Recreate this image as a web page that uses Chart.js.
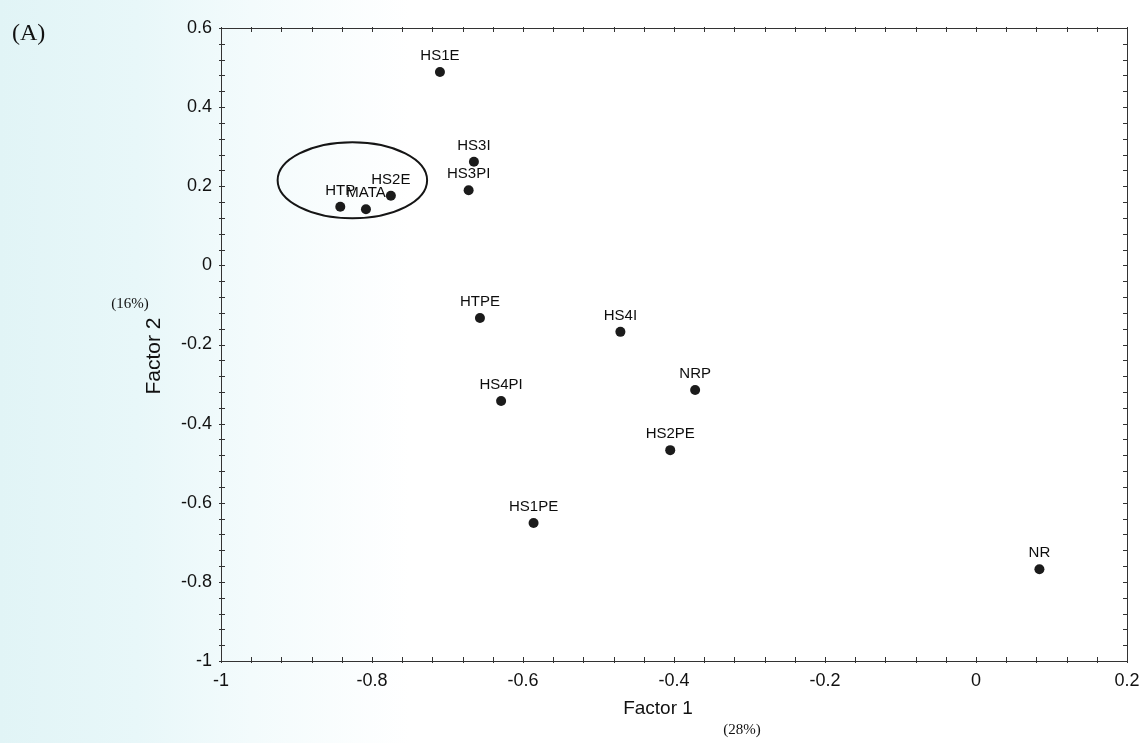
<!DOCTYPE html>
<html>
<head>
<meta charset="utf-8">
<script src="https://cdn.jsdelivr.net/npm/chart.js@4.4.0/dist/chart.umd.min.js"></script>
<style>
    html, body { margin: 0; padding: 0; }
    body {
        width: 1142px; height: 743px; overflow: hidden;
        background: linear-gradient(to right, #e1f4f6 0%, #e8f7f9 12%, #f3fbfc 22%, #ffffff 36%);
    }
</style>
</head>
<body>
<canvas id="factorChart" width="1142" height="743"></canvas>
<script>
// factor loadings
const pointNames = ['HS1E', 'HS3I', 'HS3PI', 'HS2E', 'HTP', 'MATA', 'HTPE', 'HS4I', 'NRP', 'HS4PI', 'HS2PE', 'HS1PE', 'NR'];
const factor1 = [-0.710, -0.665, -0.672, -0.775, -0.842, -0.808, -0.657, -0.471, -0.372, -0.629, -0.405, -0.586, 0.084];
const factor2 = [0.489, 0.262, 0.190, 0.176, 0.148, 0.142, -0.133, -0.168, -0.315, -0.343, -0.467, -0.651, -0.768];

// axis ranges and tick spacing
const xRange = [-1, 0.2];
const yRange = [-1, 0.6];
const majorStep = 0.2;
const minorStep = 0.04;

// the group circled in the figure (data units)
const groupCenter = [-0.826, 0.215];
const groupRadius = [0.099, 0.096];

const SANS = '"Liberation Sans", Arial, sans-serif';
const SERIF = '"Liberation Serif", "Times New Roman", serif';

function fmt(v) {
    return Number(v.toFixed(1)).toString();
}

// small inward ticks on all four sides of the box
const frameTicks = {
    id: 'frameTicks',
    afterDraw(chart) {
        const { ctx, chartArea: a, scales } = chart;
        ctx.save();
        ctx.strokeStyle = '#333';
        ctx.lineWidth = 1;
        ctx.strokeRect(a.left + 0.5, a.top + 0.5, a.right - a.left, a.bottom - a.top);
        ctx.beginPath();
        const nx = Math.round((xRange[1] - xRange[0]) / minorStep);
        for (let i = 0; i <= nx; i++) {
            const px = Math.round(scales.x.getPixelForValue(xRange[0] + i * minorStep)) + 0.5;
            ctx.moveTo(px, a.bottom + 2); ctx.lineTo(px, a.bottom - 4);
            ctx.moveTo(px, a.top - 1); ctx.lineTo(px, a.top + 4);
        }
        const ny = Math.round((yRange[1] - yRange[0]) / minorStep);
        for (let i = 0; i <= ny; i++) {
            const py = Math.round(scales.y.getPixelForValue(yRange[0] + i * minorStep)) + 0.5;
            ctx.moveTo(a.left - 2, py); ctx.lineTo(a.left + 4, py);
            ctx.moveTo(a.right + 1, py); ctx.lineTo(a.right - 4, py);
        }
        ctx.stroke();
        ctx.restore();
    }
};

// ellipse round the HTP / MATA / HS2E group
const groupEllipse = {
    id: 'groupEllipse',
    afterDatasetsDraw(chart) {
        const { ctx, scales } = chart;
        const cx = scales.x.getPixelForValue(groupCenter[0]);
        const cy = scales.y.getPixelForValue(groupCenter[1]);
        const rx = Math.abs(scales.x.getPixelForValue(groupCenter[0] + groupRadius[0]) - cx);
        const ry = Math.abs(scales.y.getPixelForValue(groupCenter[1] + groupRadius[1]) - cy);
        ctx.save();
        ctx.strokeStyle = '#151515';
        ctx.lineWidth = 2;
        ctx.beginPath();
        ctx.ellipse(cx, cy, rx, ry, 0, 0, Math.PI * 2);
        ctx.stroke();
        ctx.restore();
    }
};

// name above each point
const pointLabels = {
    id: 'pointLabels',
    afterDatasetsDraw(chart) {
        const { ctx } = chart;
        const meta = chart.getDatasetMeta(0);
        ctx.save();
        ctx.font = '15px ' + SANS;
        ctx.fillStyle = '#0d0d0d';
        ctx.textAlign = 'center';
        ctx.textBaseline = 'alphabetic';
        meta.data.forEach((pt, i) => {
            ctx.fillText(pointNames[i], pt.x, pt.y - 12);
        });
        ctx.restore();
    }
};

// axis titles, percentages and panel letter
const extraText = {
    id: 'extraText',
    afterDraw(chart) {
        const { ctx } = chart;
        ctx.save();
        ctx.fillStyle = '#111';
        ctx.textBaseline = 'middle';
        ctx.textAlign = 'left';
        ctx.font = '24px ' + SERIF;
        ctx.fillText('(A)', 12, 34);

        ctx.textAlign = 'center';
        ctx.font = '19px ' + SANS;
        ctx.fillText('Factor 1', 658, 709);
        ctx.font = '15px ' + SERIF;
        ctx.fillText('(28%)', 742, 730);
        ctx.fillText('(16%)', 130, 304);

        ctx.translate(154, 356);
        ctx.rotate(-Math.PI / 2);
        ctx.font = '21px ' + SANS;
        ctx.fillText('Factor 2', 0, 0);
        ctx.restore();
    }
};

const points = factor1.map((x, i) => ({ x: x, y: factor2[i] }));

new Chart(document.getElementById('factorChart').getContext('2d'), {
    type: 'scatter',
    data: {
        datasets: [{
            label: 'Samples',
            data: points,
            backgroundColor: '#1b1b1b',
            borderColor: '#1b1b1b',
            borderWidth: 0,
            pointRadius: 5
        }]
    },
    options: {
        responsive: false,
        animation: false,
        devicePixelRatio: 1,
        events: [],
        layout: { padding: { left: 0, top: 28, right: 0, bottom: 0 } },
        plugins: {
            legend: { display: false },
            tooltip: { enabled: false }
        },
        scales: {
            x: {
                type: 'linear',
                min: xRange[0],
                max: xRange[1],
                afterFit: s => { s.height = 82; s.paddingRight = 15; },
                ticks: {
                    stepSize: majorStep,
                    callback: v => fmt(v),
                    font: { family: SANS, size: 18 },
                    color: '#111',
                    padding: 9,
                    maxRotation: 0
                },
                grid: { drawOnChartArea: false, drawTicks: false },
                border: { color: '#333', width: 1 }
            },
            y: {
                type: 'linear',
                min: yRange[0],
                max: yRange[1],
                afterFit: s => { s.width = 221; },
                ticks: {
                    stepSize: majorStep,
                    callback: v => fmt(v),
                    font: { family: SANS, size: 18 },
                    color: '#111',
                    padding: 9
                },
                grid: { drawOnChartArea: false, drawTicks: false },
                border: { color: '#333', width: 1 }
            }
        }
    },
    plugins: [frameTicks, groupEllipse, pointLabels, extraText]
});
</script>
</body>
</html>
